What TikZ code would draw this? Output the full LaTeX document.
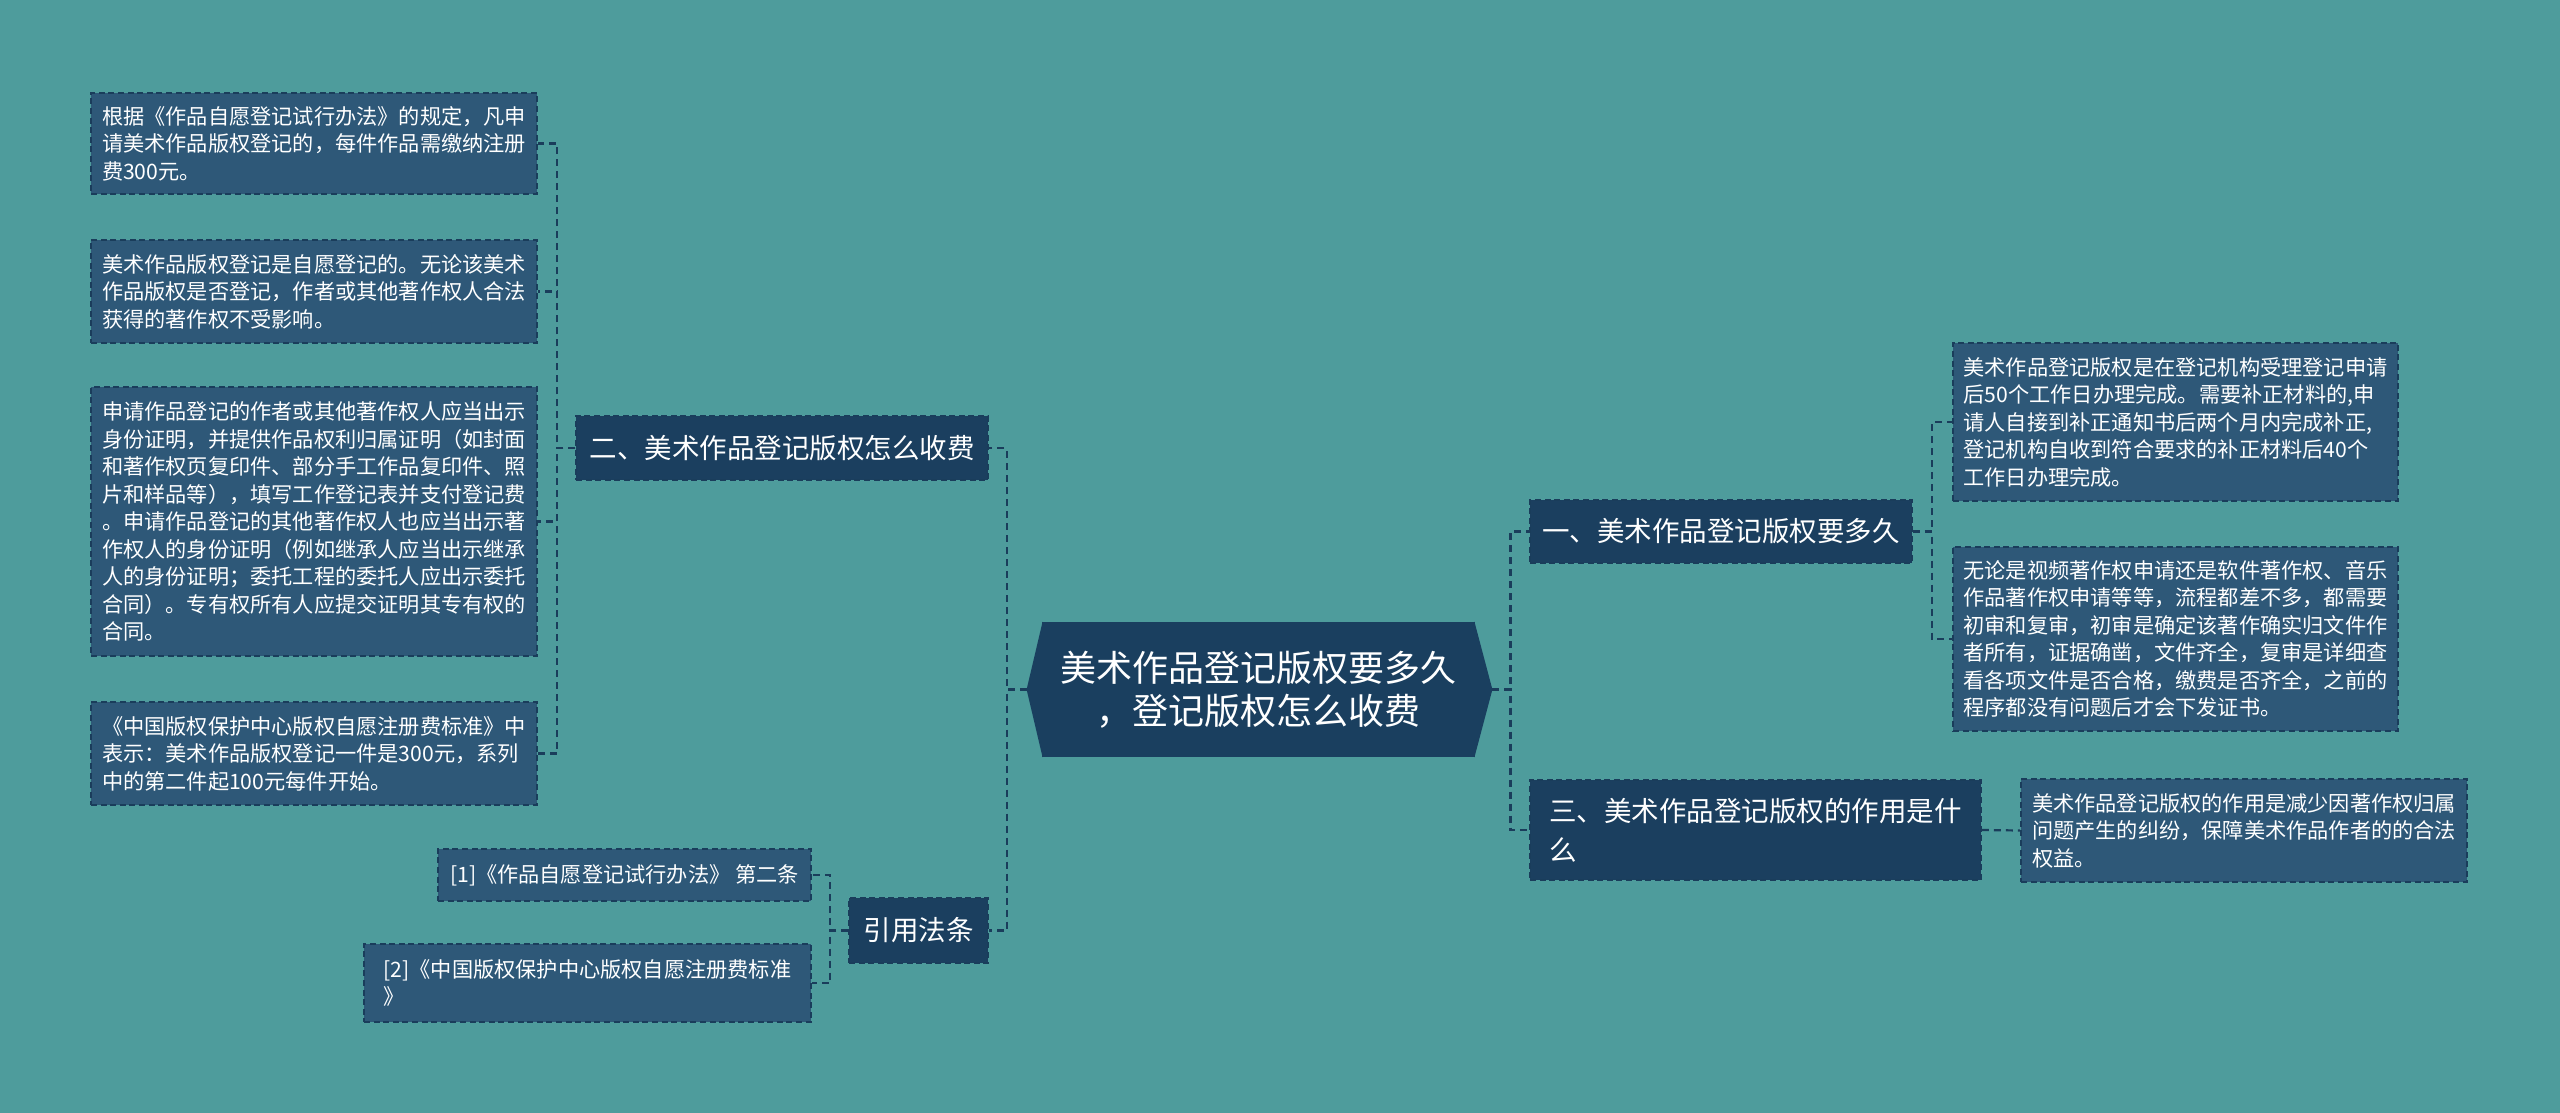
\documentclass[tikz,border=0pt]{standalone}
\usepackage{fontspec}
\setmainfont{Noto Sans CJK SC}
\usetikzlibrary{calc}
\definecolor{bgteal}{HTML}{4E9C9C}
\definecolor{rootnavy}{HTML}{1A3F5F}
\definecolor{branchnavy}{HTML}{1B3F5F}
\definecolor{leafblue}{HTML}{2E5878}
\definecolor{linenavy}{HTML}{1A3D5B}
\tikzset{every node/.append style={text=white}}

\begin{document}
\begin{tikzpicture}[x=0.5pt, y=-0.5pt,
  link/.style={draw=linenavy, line width=1.1pt, dash pattern=on 3.5pt off 2.5pt},
  box/.style={draw=linenavy, line width=0.8pt, dash pattern=on 3pt off 1.8pt,
              rectangle, inner sep=0pt, align=left},
  leaf/.style={box, fill=leafblue, font=\fontsize{10.6}{13.75}\selectfont},
  branch/.style={box, fill=branchnavy, font=\fontsize{13.75}{19.5}\selectfont},
  rootbox/.style={rectangle, fill=rootnavy, inner sep=0pt, align=center,
                  font=\fontsize{18}{21.5}\selectfont}]
\fill[bgteal] (0,0) rectangle (2560,1113);
\useasboundingbox (0,0) rectangle (2560,1113);
\node[rootbox, minimum width=216.5pt, minimum height=67.5pt] (root) at (1258.5,689.5)
  {美术作品登记版权要多久\\，登记版权怎么收费};
\coordinate (rootL) at ($(root.west)+(-15,0)$);
\coordinate (rootR) at ($(root.east)+(17,0)$);
\fill[rootnavy] ($(root.north west)+(1,0)$) -- (rootL) -- ($(root.south west)+(1,0)$) -- cycle;
\fill[rootnavy] ($(root.north east)+(-1,0)$) -- (rootR) -- ($(root.south east)+(-1,0)$) -- cycle;
\node[branch, minimum width=206pt, minimum height=32pt] (fee) at (782,448)
  {二、美术作品登记版权怎么收费};
\node[branch, minimum width=69.5pt, minimum height=32.5pt] (refs) at (918.5,930.5) {引用法条};
\node[branch, minimum width=191pt, minimum height=31.5pt] (howlong) at (1721,531.5)
  {一、美术作品登记版权要多久};
\node[branch, minimum width=225.5pt, minimum height=50pt] (effect) at (1755.5,830)
  {三、美术作品登记版权的作用是什\\么};
\node[leaf, minimum width=223pt, minimum height=50.5pt] (fee1) at (314,143.5)
  {根据《作品自愿登记试行办法》的规定，凡申\\请美术作品版权登记的，每件作品需缴纳注册\\费300元。};
\node[leaf, minimum width=223pt, minimum height=51.5pt] (fee2) at (314,291.5)
  {美术作品版权登记是自愿登记的。无论该美术\\作品版权是否登记，作者或其他著作权人合法\\获得的著作权不受影响。};
\node[leaf, minimum width=223pt, minimum height=134.5pt] (fee3) at (314,521.5)
  {申请作品登记的作者或其他著作权人应当出示\\身份证明，并提供作品权利归属证明（如封面\\和著作权页复印件、部分手工作品复印件、照\\片和样品等），填写工作登记表并支付登记费\\。申请作品登记的其他著作权人也应当出示著\\作权人的身份证明（例如继承人应当出示继承\\人的身份证明；委托工程的委托人应出示委托\\合同）。专有权所有人应提交证明其专有权的\\合同。};
\node[leaf, minimum width=223pt, minimum height=51.5pt] (fee4) at (314,753.5)
  {《中国版权保护中心版权自愿注册费标准》中\\表示：美术作品版权登记一件是300元，系列\\中的第二件起100元每件开始。};
\node[leaf, minimum width=186.5pt, minimum height=26pt] (ref1) at (624.5,875)
  {[1]《作品自愿登记试行办法》 第二条};
\node[leaf, minimum width=223.5pt, minimum height=39pt] (ref2) at (587.5,983)
  {[2]《中国版权保护中心版权自愿注册费标准\\》};
\node[leaf, minimum width=222.5pt, minimum height=79pt] (long1) at (2175.5,422)
  {美术作品登记版权是在登记机构受理登记申请\\后50个工作日办理完成。需要补正材料的,申\\请人自接到补正通知书后两个月内完成补正,\\登记机构自收到符合要求的补正材料后40个\\工作日办理完成。};
\node[leaf, minimum width=222.5pt, minimum height=92pt] (long2) at (2175.5,639)
  {无论是视频著作权申请还是软件著作权、音乐\\作品著作权申请等等，流程都差不多，都需要\\初审和复审，初审是确定该著作确实归文件作\\者所有，证据确凿，文件齐全，复审是详细查\\看各项文件是否合格，缴费是否齐全，之前的\\程序都没有问题后才会下发证书。};
\node[leaf, minimum width=223pt, minimum height=51.5pt] (effect1) at (2244,830.5)
  {美术作品登记版权的作用是减少因著作权归属\\问题产生的纠纷，保障美术作品作者的的合法\\权益。};
\draw[link] (rootL) -- ++(-20,0) |- (fee.east);
\draw[link] (rootL) -- ++(-20,0) |- (refs.east);
\draw[link] (rootR) -- ++(18,0) |- (howlong.west);
\draw[link] (rootR) -- ++(18,0) |- (effect.west);
\foreach \n in {fee1,fee2,fee3,fee4}
  \draw[link] (fee.west) -- ++(-18,0) |- (\n.east);
\foreach \n in {ref1,ref2}
  \draw[link] (refs.west) -- ++(-18,0) |- (\n.east);
\foreach \n in {long1,long2}
  \draw[link] (howlong.east) -- ++(19,0) |- (\n.west);
\draw[link] (effect.east) -- (effect1.west);
\end{tikzpicture}
\end{document}
